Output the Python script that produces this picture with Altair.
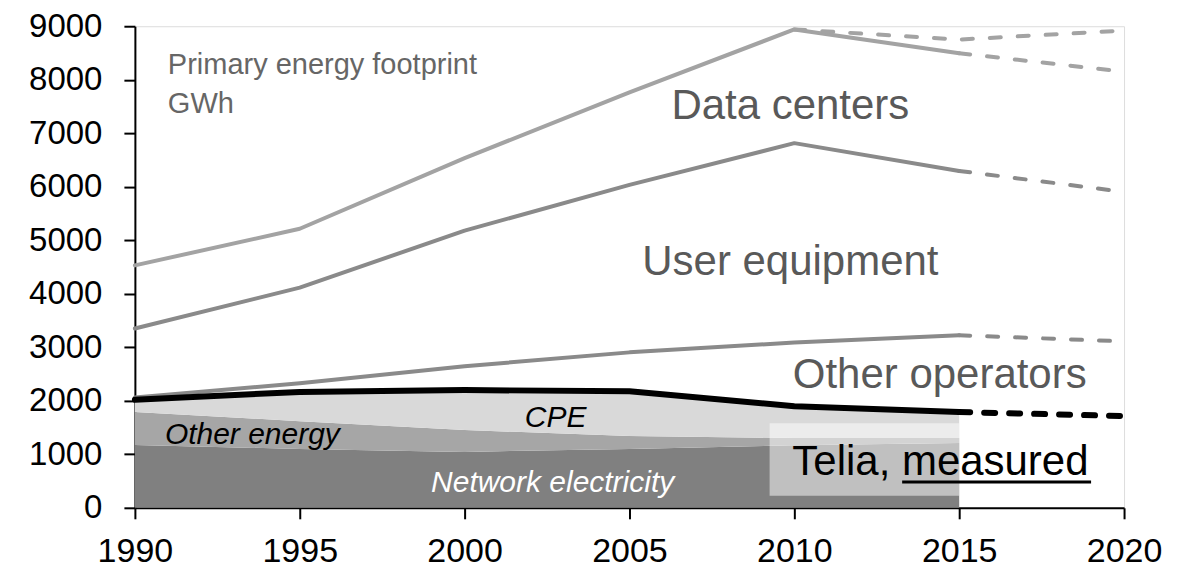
import altair as alt
import pandas as pd

# ---- data (GWh, primary energy footprint) ----
years = [1990, 1995, 2000, 2005, 2010, 2015]
network_electricity = [1175, 1100, 1045, 1100, 1170, 1210]
other_energy = [615, 520, 410, 240, 135, 95]
cpe = [230, 545, 745, 840, 595, 485]
telia_total = [2020, 2165, 2200, 2180, 1900, 1790]
other_operators_total = [2060, 2330, 2645, 2905, 3090, 3225]
user_equipment_total = [3350, 4115, 5180, 6035, 6815, 6295]
data_centers_total = [4530, 5215, 6535, 7765, 8940, 8495]

forecast_years = [2015, 2020]
telia_forecast = [1790, 1715]
other_operators_forecast = [3225, 3110]
user_equipment_forecast = [6295, 5905]
data_centers_forecast_low = [8495, 8150]
dc_high_years = [2010, 2015, 2020]
data_centers_forecast_high = [8940, 8750, 8920]

x_ticks = [1990, 1995, 2000, 2005, 2010, 2015, 2020]
y_ticks = [0, 1000, 2000, 3000, 4000, 5000, 6000, 7000, 8000, 9000]

FONT = "Liberation Sans"

# ---- tables ----
rows = []
for i, yr in enumerate(years):
    n = network_electricity[i]
    o = n + other_energy[i]
    t = telia_total[i]
    rows.append({"year": yr, "part": "Network electricity", "lo": 0, "hi": n})
    rows.append({"year": yr, "part": "Other energy", "lo": n, "hi": o})
    rows.append({"year": yr, "part": "CPE", "lo": o, "hi": t})
areas_df = pd.DataFrame(rows)

xs = alt.Scale(domain=[1990, 2020], nice=False, zero=False)
ys = alt.Scale(domain=[0, 9000], nice=False)

x_axis = alt.Axis(values=x_ticks, format="d", title=None, grid=False,
                  labelFont=FONT, labelFontSize=34, labelColor="black",
                  tickColor="black", tickSize=11, tickWidth=2,
                  domainColor="black", domainWidth=2, labelPadding=16,
                  labelFlush=False, labelOverlap=False)
y_axis = alt.Axis(values=y_ticks, format="d", title=None, grid=False,
                  labelFont=FONT, labelFontSize=33, labelColor="black",
                  tickColor="black", tickSize=11, tickWidth=2,
                  domainColor="black", domainWidth=2, labelPadding=22,
                  labelFlush=False, labelOverlap=False)

areas = alt.Chart(areas_df).mark_area(interpolate="linear").encode(
    x=alt.X("year:Q", scale=xs, axis=x_axis),
    y=alt.Y("lo:Q", scale=ys, axis=y_axis),
    y2="hi:Q",
    color=alt.Color("part:N", legend=None,
                    scale=alt.Scale(domain=["Network electricity", "Other energy", "CPE"],
                                    range=["#808080", "#a6a6a6", "#d9d9d9"])),
    detail="part:N",
)


def line(xv, yv, color, width, dash=None):
    df = pd.DataFrame({"year": xv, "value": yv})
    kw = dict(color=color, strokeWidth=width, strokeCap="round", strokeJoin="round")
    if dash:
        kw["strokeDash"] = dash
    return alt.Chart(df).mark_line(**kw).encode(
        x=alt.X("year:Q", scale=xs), y=alt.Y("value:Q", scale=ys))


DC = "#a3a3a3"
MID = "#8a8a8a"
GDASH = [11, 17]
lines = [
    line(years, data_centers_total, DC, 4),
    line(years, user_equipment_total, MID, 4),
    line(years, other_operators_total, MID, 4),
    line(dc_high_years, data_centers_forecast_high, DC, 4, GDASH),
    line(forecast_years, data_centers_forecast_low, DC, 4, GDASH),
    line(forecast_years, user_equipment_forecast, MID, 4, GDASH),
    line(forecast_years, other_operators_forecast, MID, 4, GDASH),
]

# translucent label box
box_df = pd.DataFrame({"x": [2009.25], "x2": [2015.0], "y": [225], "y2": [1580]})
box = alt.Chart(box_df).mark_rect(color="white", opacity=0.5).encode(
    x=alt.X("x:Q", scale=xs), x2="x2:Q", y=alt.Y("y:Q", scale=ys), y2="y2:Q")

telia_line = line(years, telia_total, "black", 6)
telia_dash = line(forecast_years, telia_forecast, "black", 6, [11, 14])


def label(text, x, y, size, color, align="center", italic=False):
    df = pd.DataFrame({"t": [text], "x": [x], "y": [y]})
    kw = dict(font=FONT, fontSize=size, color=color, align=align, baseline="alphabetic")
    if italic:
        kw["fontStyle"] = "italic"
    return alt.Chart(df).mark_text(**kw).encode(
        x=alt.X("x:Q", scale=xs), y=alt.Y("y:Q", scale=ys), text="t:N")


labels = [
    label("Primary energy footprint", 1991.0, 8105, 29, "#666666", align="left"),
    label("GWh", 1991.0, 7379, 29, "#666666", align="left"),
    label("Data centers", 2009.88, 7267, 42, "#595959"),
    label("User equipment", 2009.88, 4360, 42, "#595959"),
    label("Other operators", 2014.41, 2236, 42, "#595959"),
    label("CPE", 2002.76, 1509, 30, "black", italic=True),
    label("Other energy", 1990.91, 1193, 30, "black", align="left", italic=True),
    label("Network electricity", 2002.67, 298, 30, "white", italic=True),
    label("Telia, measured", 2009.94, 615, 42, "black", align="left"),
]

ul_df = pd.DataFrame({"x": [2013.27], "x2": [2019.0], "y": [484]})
underline = alt.Chart(ul_df).mark_rule(color="black", strokeWidth=3).encode(
    x=alt.X("x:Q", scale=xs), x2="x2:Q", y=alt.Y("y:Q", scale=ys))

chart = alt.layer(areas, *lines, box, telia_line, telia_dash, *labels, underline).properties(
    width=990, height=482,
    autosize=alt.AutoSizeParams(type="none"),
    padding={"left": 127, "top": 18, "right": 60, "bottom": 60},
).configure_view(stroke="black", strokeWidth=2).configure(background="white")

chart.save("out.html", embed_options={"renderer": "svg", "actions": False})
